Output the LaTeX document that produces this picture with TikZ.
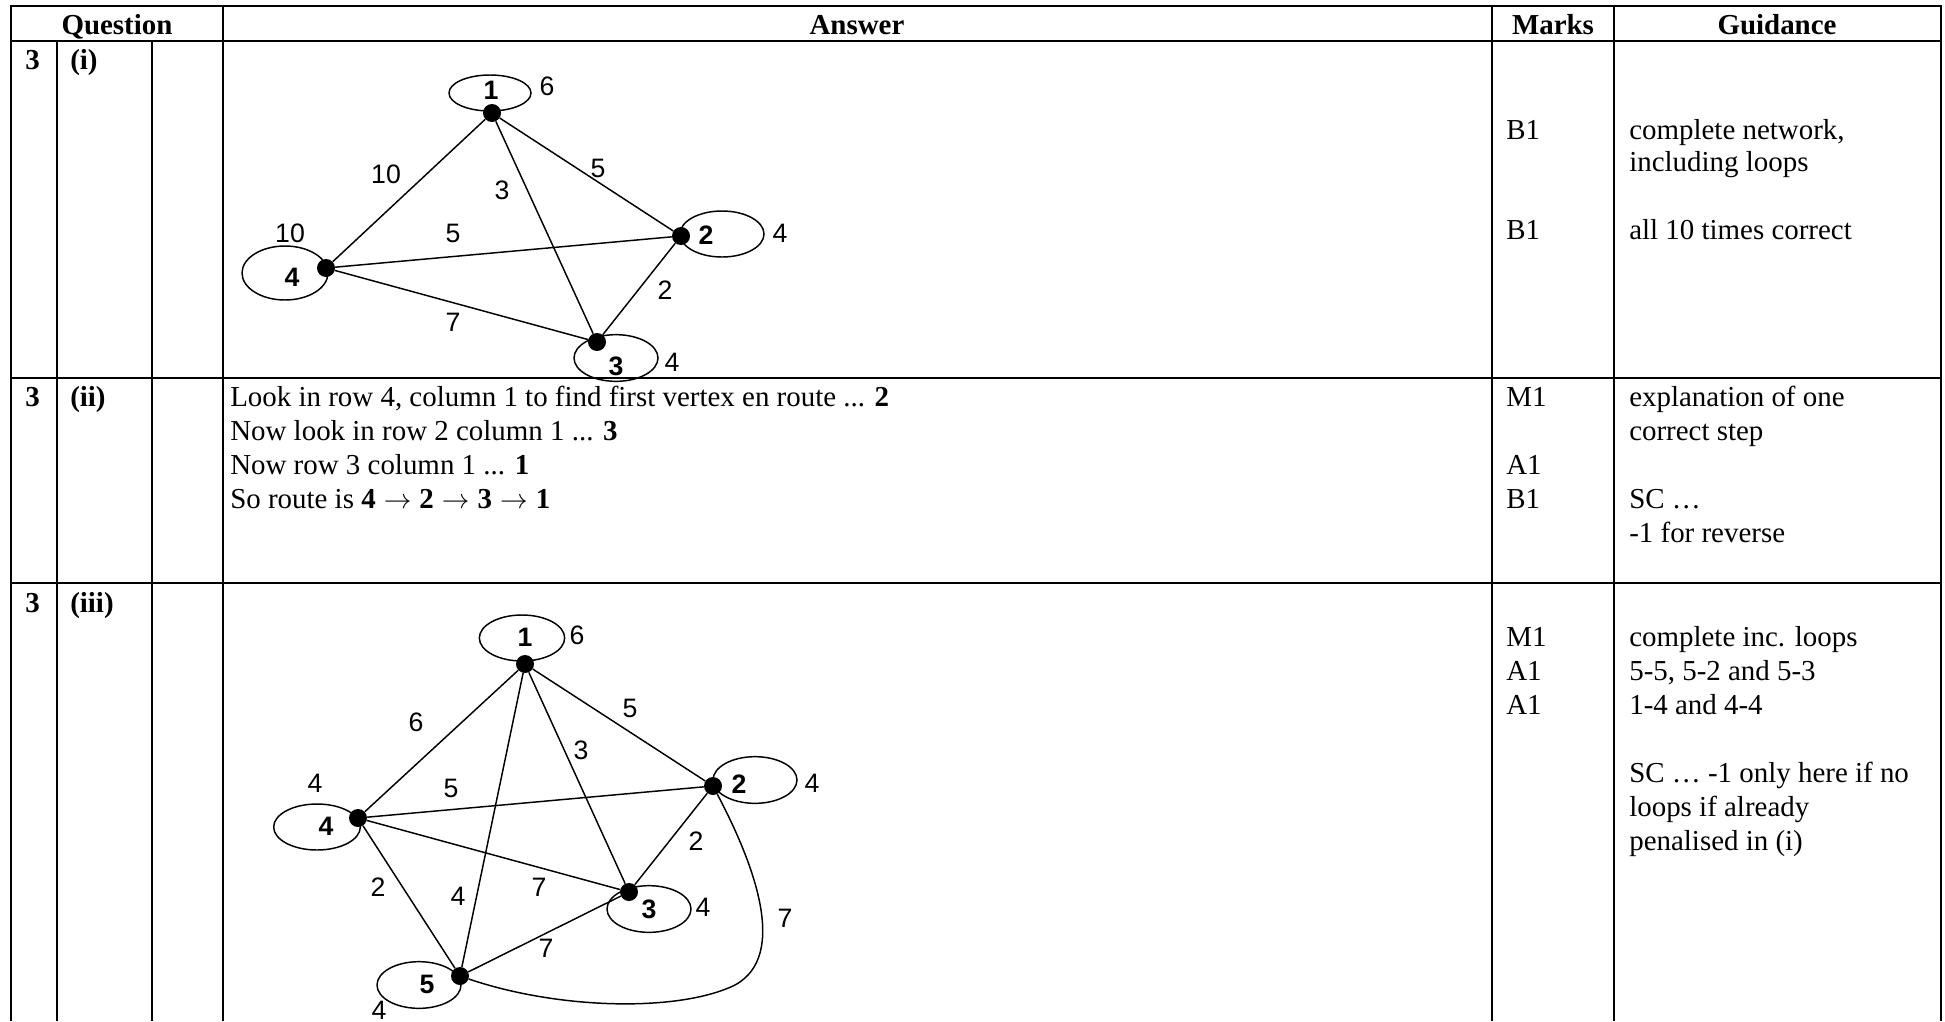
\documentclass[tikz,border=0pt]{standalone}
\usepackage{fontspec}
\setmainfont{Liberation Serif}
\newfontfamily\arialf{Liberation Sans}
\usetikzlibrary{shapes.geometric}
\begin{document}
\begin{tikzpicture}[x=0.75pt,y=-0.75pt,
  tline/.style={line width=2pt},
  gline/.style={line width=1.1pt},
  txt/.style={anchor=base west, inner sep=0pt, font=\fontsize{21.7}{26}\selectfont},
  btxt/.style={txt, font=\fontsize{21.7}{26}\selectfont\bfseries},
  hdr/.style={anchor=base, inner sep=0pt, font=\fontsize{21.7}{26}\selectfont\bfseries},
  vdot/.style={circle, fill=black, inner sep=0pt, minimum size=13.5pt},
  loopel/.style={draw, ellipse, line width=1.1pt, inner sep=0pt, minimum width=63pt, minimum height=35pt},
  num/.style={inner sep=0pt, font=\fontsize{20}{24}\selectfont\arialf},
  vlab/.style={inner sep=0pt, font=\fontsize{20}{24}\selectfont\arialf\bfseries},
]
\useasboundingbox (0,0) rectangle (1945,1021);
\fill[white] (0,0) rectangle (1945,1021);

% ---------- table ----------
\draw[tline] (11,1021) -- (11,6) -- (1941,6) -- (1941,1021);
\draw[tline] (11,41) -- (1941,41);
\draw[tline] (11,378) -- (1941,378);
\draw[tline] (11,583) -- (1941,583);
\draw[tline] (57,41) -- (57,1021);
\draw[tline] (152,41) -- (152,1021);
\draw[tline] (223,6) -- (223,1021);
\draw[tline] (1492,6) -- (1492,1021);
\draw[tline] (1614,6) -- (1614,1021);

% headers
\node[hdr] (hq) at (117,34) {Question};
\node[hdr] (ha) at (857,34) {Answer};
\node[hdr] (hm) at (1553,34) {Marks};
\node[hdr] (hg) at (1777,34) {Guidance};

% row (i)
\node[btxt] (q1n) at (25,69) {3};
\node[btxt] (q1p) at (70,69) {(i)};
\node[txt] (m1a) at (1506,139) {B1};
\node[txt] (m1b) at (1506,239) {B1};
\node[txt] (g1a) at (1629,139) {complete network,};
\node[txt] (g1b) at (1629,171) {including loops};
\node[txt] (g1c) at (1629,239) {all 10 times correct};

% row (ii)
\node[btxt] (q2n) at (25,406) {3};
\node[btxt] (q2p) at (70,406) {(ii)};
\node[txt] (a2a) at (230,406) {Look in row 4, column 1 to find first vertex en route ... \textbf{2}};
\node[txt] (a2b) at (230,440) {Now look in row 2 column 1 ... \textbf{3}};
\node[txt] (a2c) at (230,474) {Now row 3 column 1 ... \textbf{1}};
\node[txt] (a2d) at (230,508) {So route is \textbf{4}\;$\rightarrow$\;\textbf{2}\;$\rightarrow$\;\textbf{3}\;$\rightarrow$\;\textbf{1}};
\node[txt] (m2a) at (1506,406) {M1};
\node[txt] (m2b) at (1506,474) {A1};
\node[txt] (m2c) at (1506,508) {B1};
\node[txt] (g2a) at (1629,406) {explanation of one};
\node[txt] (g2b) at (1629,440) {correct step};
\node[txt] (g2c) at (1629,508) {SC …};
\node[txt] (g2d) at (1629,542) {-1 for reverse};

% row (iii)
\node[btxt] (q3n) at (25,612) {3};
\node[btxt] (q3p) at (70,612) {(iii)};
\node[txt] (m3a) at (1506,646) {M1};
\node[txt] (m3b) at (1506,680) {A1};
\node[txt] (m3c) at (1506,714) {A1};
\node[txt] (g3a) at (1629,646) {complete inc. loops};
\node[txt] (g3b) at (1629,680) {5-5, 5-2 and 5-3};
\node[txt] (g3c) at (1629,714) {1-4 and 4-4};
\node[txt] (g3d) at (1629,782) {SC … -1 only here if no};
\node[txt] (g3e) at (1629,816) {loops if already};
\node[txt] (g3f) at (1629,850) {penalised in (i)};

% ---------- graph (i) ----------
\node[loopel, minimum width=61.5pt, minimum height=27pt] (la1) at (490,93) {};
\node[loopel, minimum width=63pt, minimum height=34.5pt] (la2) at (722,234) {};
\node[loopel, minimum width=63pt, minimum height=35pt] (la3) at (616,358) {};
\node[loopel, minimum width=64.5pt, minimum height=40.5pt] (la4) at (285,273) {};
\node[vdot] (a1) at (492,113) {};
\node[vdot] (a2) at (681,236) {};
\node[vdot] (a3) at (597,342) {};
\node[vdot] (a4) at (326,268) {};
\draw[gline] (a1) -- (a4);
\draw[gline] (a1) -- (a2);
\draw[gline] (a1) -- (a3);
\draw[gline] (a4) -- (a2);
\draw[gline] (a4) -- (a3);
\draw[gline] (a2) -- (a3);
\node[vlab] (va1) at (491,90) {1};
\node[vlab] (va2) at (706,235) {2};
\node[vlab] (va3) at (616,366) {3};
\node[vlab] (va4) at (292,277) {4};
\node[num] (wa1) at (547,86) {6};
\node[num] (wa2) at (780,233) {4};
\node[num] (wa3) at (672,362) {4};
\node[num] (wa4) at (290,233) {10};
\node[num] (ea14) at (386,174) {10};
\node[num] (ea13) at (502,190) {3};
\node[num] (ea12) at (598,168) {5};
\node[num] (ea42) at (453,233) {5};
\node[num] (ea23) at (665,290) {2};
\node[num] (ea43) at (453,322) {7};

% ---------- graph (iii) ----------
\node[loopel, minimum width=64pt, minimum height=34.5pt] (lb1) at (522,638) {};
\node[loopel, minimum width=63pt, minimum height=35pt] (lb2) at (755,780) {};
\node[loopel, minimum width=63pt, minimum height=35pt] (lb3) at (649,909) {};
\node[loopel, minimum width=65pt, minimum height=34.5pt] (lb4) at (317,827) {};
\node[loopel, minimum width=63pt, minimum height=35pt] (lb5) at (419,985) {};
\node[vdot] (b1) at (525,664) {};
\node[vdot] (b2) at (713,786) {};
\node[vdot] (b3) at (629,892) {};
\node[vdot] (b4) at (358,818) {};
\node[vdot] (b5) at (460,976) {};
\draw[gline] (b1) -- (b4);
\draw[gline] (b1) -- (b2);
\draw[gline] (b1) -- (b3);
\draw[gline] (b1) -- (b5);
\draw[gline] (b4) -- (b2);
\draw[gline] (b4) -- (b3);
\draw[gline] (b4) -- (b5);
\draw[gline] (b2) -- (b3);
\draw[gline] (b3) -- (b5);
\draw[gline] (b2) .. controls (752,860) and (790,955) .. (735,985)
                  .. controls (680,1012) and (560,1010) .. (b5);
\node[vlab] (vb1) at (525,637) {1};
\node[vlab] (vb2) at (739,784) {2};
\node[vlab] (vb3) at (649,909) {3};
\node[vlab] (vb4) at (326,826) {4};
\node[vlab] (vb5) at (427,984) {5};
\node[num] (wb1) at (577,635) {6};
\node[num] (wb2) at (812,783) {4};
\node[num] (wb3) at (703,907) {4};
\node[num] (wb4) at (315,783) {4};
\node[num] (wb5) at (379,1010) {4};
\node[num] (fb14) at (416,722) {6};
\node[num] (fb12) at (630,708) {5};
\node[num] (fb13) at (581,750) {3};
\node[num] (fb42) at (451,788) {5};
\node[num] (fb23) at (696,841) {2};
\node[num] (fb43) at (539,887) {7};
\node[num] (fb45) at (378,887) {2};
\node[num] (fb15) at (458,896) {4};
\node[num] (fb35) at (546,948) {7};
\node[num] (fb25) at (785,918) {7};
\end{tikzpicture}
\end{document}
